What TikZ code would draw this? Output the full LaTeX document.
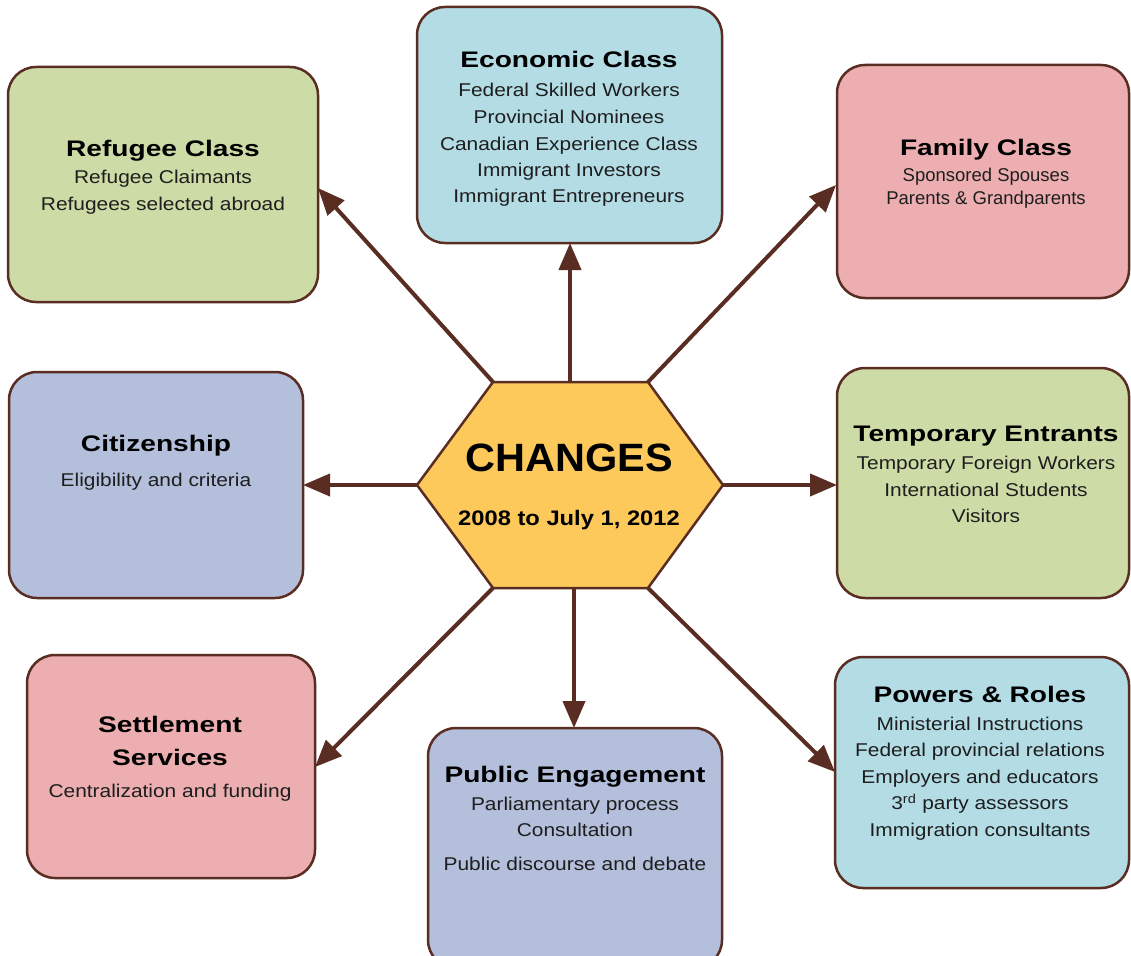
\documentclass[tikz,border=0pt]{standalone}
\usepackage{fontspec}
\setmainfont{Liberation Sans}
\newfontfamily\titlefam[FakeStretch=1.25]{Liberation Sans}
\newfontfamily\bodyfam[FakeStretch=1.13]{Liberation Sans}
\newfontfamily\bigfam[FakeStretch=1.05]{Liberation Sans}
\usetikzlibrary{arrows.meta}
\definecolor{brn}{RGB}{90,45,35}
\definecolor{cblue}{RGB}{179,220,229}
\definecolor{cpink}{RGB}{236,174,176}
\definecolor{cgreen}{RGB}{205,220,166}
\definecolor{clav}{RGB}{180,191,220}
\definecolor{chex}{RGB}{252,201,90}
\definecolor{txt}{RGB}{30,30,30}
\newcommand{\ttlfont}{\titlefam\bfseries\fontsize{22.5}{27}\selectfont}
\newcommand{\bdyfont}{\bodyfam\fontsize{18.5}{22}\selectfont}
\newcommand{\famfont}{\fontsize{18.5}{22}\selectfont}
\tikzset{
  box/.style={draw=brn, line width=2.5pt, rounded corners=28pt, inner sep=0pt, outer sep=0pt},
  ttl/.style={anchor=base, font=\ttlfont, inner sep=0pt, text=black},
  bline/.style={anchor=base, font=\bdyfont, inner sep=0pt, text=txt},
  fline/.style={anchor=base, font=\famfont, inner sep=0pt, text=txt},
  arr/.style={draw=brn, line width=4pt, -{Triangle[length=27pt,width=22pt]}},
}
\begin{document}
\begin{tikzpicture}[x=1pt,y=-1pt]
\useasboundingbox (0,0) rectangle (1131,955);
\clip (0,0) rectangle (1131,955);
% boxes
\node[box, fill=cblue, minimum width=305pt, minimum height=236pt] (econ) at (569.5,125) {};
\node[box, fill=cgreen, minimum width=310pt, minimum height=235pt] (refugee) at (163,184.5) {};
\node[box, fill=cpink, minimum width=292pt, minimum height=233pt] (family) at (983,181.5) {};
\node[box, fill=clav, minimum width=294pt, minimum height=226pt] (citizen) at (156,485) {};
\node[box, fill=cgreen, minimum width=292pt, minimum height=230pt] (temp) at (983,483) {};
\node[box, fill=cpink, minimum width=288pt, minimum height=223pt] (settle) at (171,766.5) {};
\node[box, fill=clav, minimum width=294pt, minimum height=240pt] (public) at (575,848) {};
\node[box, fill=cblue, minimum width=294pt, minimum height=231pt] (powers) at (982,772.5) {};
% hexagon
\coordinate (hl) at (417,485);
\coordinate (htl) at (493,382);
\coordinate (htr) at (648,382);
\coordinate (hr) at (723,485);
\coordinate (hbr) at (648,588);
\coordinate (hbl) at (493,588);
\coordinate (htop) at (570,382);
\coordinate (hbot) at (574,588);
\draw[draw=brn, line width=2.5pt, fill=chex, line join=miter] (hl) -- (htl) -- (htr) -- (hr) -- (hbr) -- (hbl) -- cycle;
\node[anchor=base, inner sep=0pt, font=\bigfam\bfseries\fontsize{39.5}{40}\selectfont] (changes) at (569,471) {CHANGES};
\node[anchor=base, inner sep=0pt, font=\bodyfam\bfseries\fontsize{21}{24}\selectfont] (period) at (569,525.5) {2008 to July 1, 2012};
% arrow tips
\coordinate (ttl-tip) at (318,188);
\coordinate (ttr-tip) at (836,185);
\coordinate (tr-tip) at (837,485);
\coordinate (tbl-tip) at (315,767);
\coordinate (tbr-tip) at (835,772);
\coordinate (tbot-tip) at (574,728);
% arrows
\draw[arr] (htop) -- (htop |- econ.south);
\draw[arr] (htl) -- (ttl-tip);
\draw[arr] (htr) -- (ttr-tip);
\draw[arr] (hl) -- (hl -| citizen.east);
\draw[arr] (hr) -- (tr-tip);
\draw[arr] (hbl) -- (tbl-tip);
\draw[arr] (hbot) -- (tbot-tip);
\draw[arr] (hbr) -- (tbr-tip);
% economic
\node[ttl] (e0) at (569,68) {Economic Class};
\node[bline] (e1) at (569,96) {Federal Skilled Workers};
\node[bline] (e2) at (569,123) {Provincial Nominees};
\node[bline] (e3) at (569,150) {Canadian Experience Class};
\node[bline] (e4) at (569,176) {Immigrant Investors};
\node[bline] (e5) at (569,202) {Immigrant Entrepreneurs};
% refugee
\node[ttl] (r0) at (163,156) {Refugee Class};
\node[bline] (r1) at (163,183.5) {Refugee Claimants};
\node[bline] (r2) at (163,210.5) {Refugees selected abroad};
% family
\node[ttl] (f0) at (986,155) {Family Class};
\node[fline] (f1) at (986,181.5) {Sponsored Spouses};
\node[fline] (f2) at (986,204.5) {Parents \& Grandparents};
% citizenship
\node[ttl] (c0) at (156,451) {Citizenship};
\node[bline] (c1) at (156,486.5) {Eligibility and criteria};
% temporary
\node[ttl] (t0) at (986,441) {Temporary Entrants};
\node[bline] (t1) at (986,469.5) {Temporary Foreign Workers};
\node[bline] (t2) at (986,496.5) {International Students};
\node[bline] (t3) at (986,522.5) {Visitors};
% settlement
\node[ttl] (s0) at (170,732) {Settlement};
\node[ttl] (s1) at (170,765) {Services};
\node[bline] (s2) at (170,797.5) {Centralization and funding};
% public
\node[ttl] (p0) at (575,782) {Public Engagement};
\node[bline] (p1) at (575,810.5) {Parliamentary process};
\node[bline] (p2) at (575,836.5) {Consultation};
\node[bline] (p3) at (575,870.5) {Public discourse and debate};
% powers
\node[ttl] (w0) at (980,702) {Powers \& Roles};
\node[bline] (w1) at (980,730.5) {Ministerial Instructions};
\node[bline] (w2) at (980,756.5) {Federal provincial relations};
\node[bline] (w3) at (980,783.5) {Employers and educators};
\node[bline] (w4) at (980,809.5) {3\textsuperscript{rd} party assessors};
\node[bline] (w5) at (980,836.5) {Immigration consultants};
\end{tikzpicture}
\end{document}
